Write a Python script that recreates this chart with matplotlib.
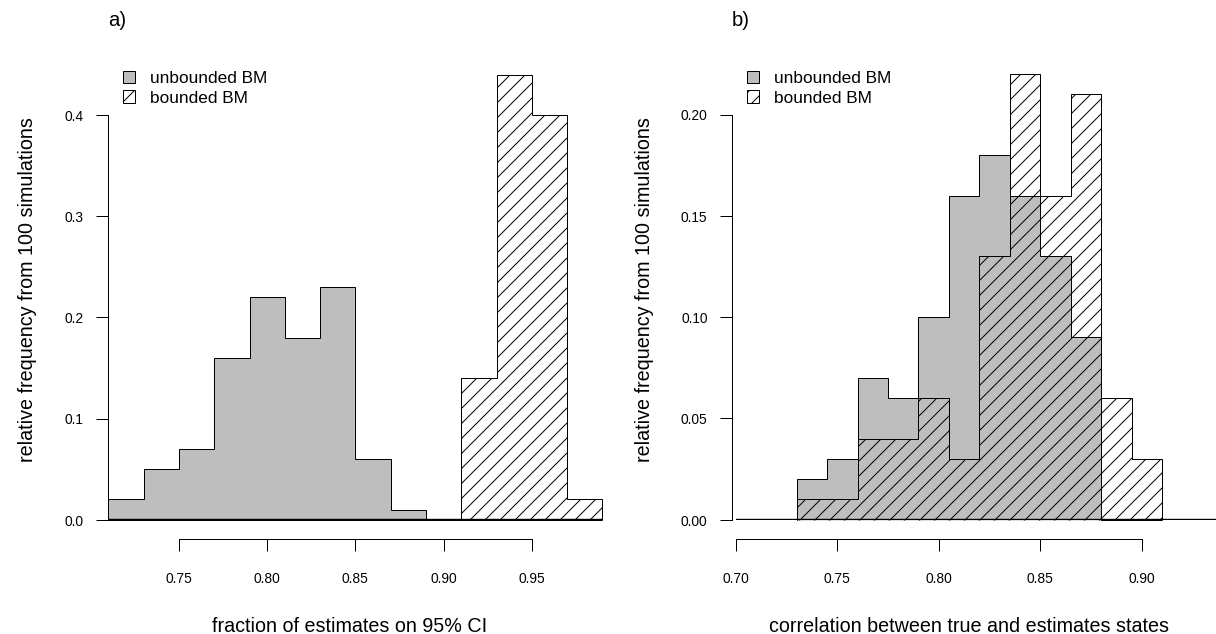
import matplotlib
matplotlib.use("Agg")
import matplotlib.pyplot as plt
from matplotlib.patches import Patch

# ---------------- data ----------------
edges_a = [0.71, 0.73, 0.75, 0.77, 0.79, 0.81, 0.83, 0.85, 0.87, 0.89, 0.91, 0.93, 0.95, 0.97, 0.99]
unbounded_a = [0.02, 0.05, 0.07, 0.16, 0.22, 0.18, 0.23, 0.06, 0.01, 0.00, 0.00, 0.00, 0.00, 0.00]
bounded_a = [0.00, 0.00, 0.00, 0.00, 0.00, 0.00, 0.00, 0.00, 0.00, 0.00, 0.14, 0.44, 0.40, 0.02]

edges_b = [0.730, 0.745, 0.760, 0.775, 0.790, 0.805, 0.820, 0.835, 0.850, 0.865, 0.880, 0.895, 0.910]
unbounded_b = [0.02, 0.03, 0.07, 0.06, 0.10, 0.16, 0.18, 0.16, 0.13, 0.09, 0.00, 0.00]
bounded_b = [0.01, 0.01, 0.04, 0.04, 0.06, 0.03, 0.13, 0.22, 0.16, 0.21, 0.06, 0.03]

xticks_a = [0.75, 0.80, 0.85, 0.90, 0.95]
xticklabels_a = ["0.75", "0.80", "0.85", "0.90", "0.95"]
yticks_a = [0.0, 0.1, 0.2, 0.3, 0.4]
yticklabels_a = ["0.0", "0.1", "0.2", "0.3", "0.4"]

xticks_b = [0.70, 0.75, 0.80, 0.85, 0.90]
xticklabels_b = ["0.70", "0.75", "0.80", "0.85", "0.90"]
yticks_b = [0.00, 0.05, 0.10, 0.15, 0.20]
yticklabels_b = ["0.00", "0.05", "0.10", "0.15", "0.20"]

series_labels = ["unbounded BM", "bounded BM"]
ylabel = "relative frequency from 100 simulations"
xlabel_a = "fraction of estimates on 95% CI"
xlabel_b = "correlation between true and estimates states"
panel_titles = ["a)", "b)"]

# ---------------- styling ----------------
DPI = 90
W, H = 1216.3, 634.3
PT = 72.0 / DPI          # points per pixel
GRAY = "#BEBEBE"
HATCH = "//"

plt.rcParams["font.family"] = ["Liberation Sans", "DejaVu Sans"]
plt.rcParams["hatch.linewidth"] = 1.0 * PT
plt.rcParams["hatch.color"] = "black"

fig = plt.figure(figsize=(W / DPI, H / DPI), dpi=DPI)
fig.patch.set_facecolor("white")


def rect(l, r, t, b):
    return [l / W, 1 - b / H, (r - l) / W, (b - t) / H]


def fx(px):
    return px / W


def fy(py):
    return 1 - py / H


def style(ax, xt, xl, yt, yl, left_out):
    for s in ["top", "right"]:
        ax.spines[s].set_visible(False)
    ax.spines["left"].set_bounds(yt[0], yt[-1])
    ax.spines["bottom"].set_bounds(xt[0], xt[-1])
    ax.spines["bottom"].set_position(("outward", 19 * PT))
    ax.spines["left"].set_position(("outward", left_out * PT))
    for s in ["left", "bottom"]:
        ax.spines[s].set_linewidth(1.0 * PT)
    ax.set_xticks(xt, xl)
    ax.set_yticks(yt, yl)
    ax.tick_params(direction="out", length=12 * PT, width=1.0 * PT,
                   labelsize=13.7 * PT, colors="black")
    ax.tick_params(axis="y", pad=12.7 * PT)
    ax.tick_params(axis="x", pad=21 * PT)
    ax.patch.set_visible(False)


def draw(ax, edges, unb, bnd):
    ax.stairs(unb, edges, fill=True, facecolor=GRAY, edgecolor="black",
              linewidth=1.0 * PT, clip_on=False, zorder=2)
    ax.stairs(bnd, edges, fill=True, facecolor="none", edgecolor="black",
              hatch=HATCH, linewidth=1.0 * PT, clip_on=False, zorder=3)
    ax.axhline(0, color="black", linewidth=2.4 * PT, zorder=4, solid_capstyle="butt")


def legend(ax, px, py):
    handles = [Patch(facecolor=GRAY, edgecolor="black", linewidth=1.0 * PT),
               Patch(facecolor="white", edgecolor="black", hatch=HATCH, linewidth=1.0 * PT)]
    ax.legend(handles, series_labels, loc="upper left",
              bbox_to_anchor=(fx(px), fy(py)), bbox_transform=fig.transFigure,
              frameon=False, borderpad=0, borderaxespad=0,
              handlelength=0.7, handleheight=0.7, handletextpad=0.89,
              labelspacing=0.27, fontsize=17.25 * PT)


LABEL_FS = 19.8 * PT

# ---------------- panel a ----------------
ax_a = fig.add_axes(rect(108.44, 602.36, 54.6, 520.0))
ax_a.set_xlim(0.71, 0.99)
ax_a.set_ylim(0, 0.46)
draw(ax_a, edges_a, unbounded_a, bounded_a)
style(ax_a, xticks_a, xticklabels_a, yticks_a, yticklabels_a, 0)
legend(ax_a, 123, 71)
ax_a.set_xlabel(xlabel_a, fontsize=LABEL_FS, va="baseline", ha="center")
ax_a.xaxis.set_label_coords(fx(349.3), fy(632), transform=fig.transFigure)
ax_a.set_ylabel(ylabel, fontsize=LABEL_FS, va="center", ha="center")
ax_a.yaxis.set_label_coords(fx(27.5), fy(289.5), transform=fig.transFigure)
fig.text(fx(108), fy(20), panel_titles[0], fontsize=20.3 * PT, ha="left", va="center")

# ---------------- panel b ----------------
ax_b = fig.add_axes(rect(735.7, 1216.0, 54.25, 520.0))
ax_b.set_xlim(0.70, 0.70 + (1216.0 - 735.7) / 2030.0)
ax_b.set_ylim(0, 0.23)
draw(ax_b, edges_b, unbounded_b, bounded_b)
style(ax_b, xticks_b, xticklabels_b, yticks_b, yticklabels_b, 3.4)
legend(ax_b, 747, 71)
ax_b.set_xlabel(xlabel_b, fontsize=LABEL_FS, va="baseline", ha="center")
ax_b.xaxis.set_label_coords(fx(969), fy(632), transform=fig.transFigure)
ax_b.set_ylabel(ylabel, fontsize=LABEL_FS, va="center", ha="center")
ax_b.yaxis.set_label_coords(fx(644.5), fy(290), transform=fig.transFigure)
fig.text(fx(731.7), fy(20), panel_titles[1], fontsize=20.3 * PT, ha="left", va="center")

fig.savefig("out.png", dpi=DPI, facecolor="white")
